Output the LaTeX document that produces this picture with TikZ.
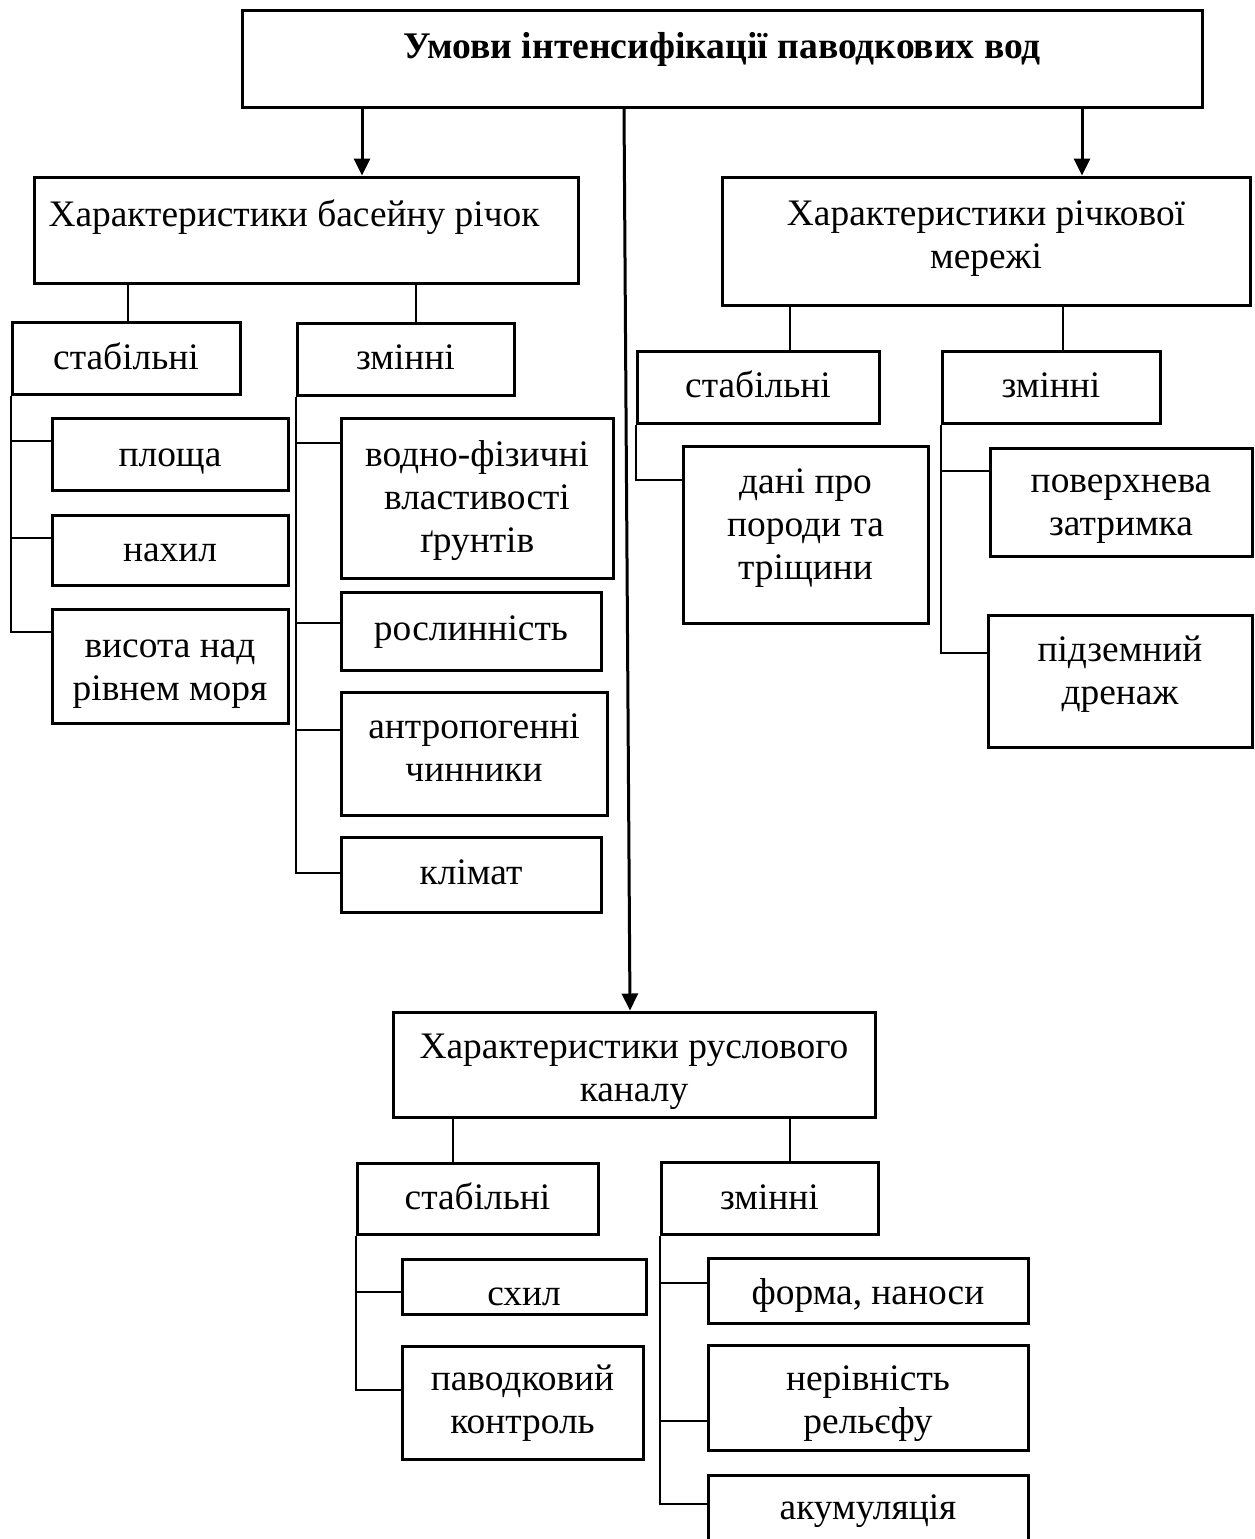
\documentclass[tikz,border=0pt]{standalone}
\usepackage{fontspec}
\setmainfont{Liberation Serif}
\usetikzlibrary{arrows.meta}
\newcommand\tx[2]{\raisebox{\dimexpr#1-1.5pt\relax}[0pt][0pt]{\begin{tabular}[t]{@{}c@{}}#2\end{tabular}}}
\begin{document}
\begin{tikzpicture}[x=1pt,y=-1pt,
  box/.style={draw, line width=3pt, inner sep=0pt,
    font=\fontsize{37.4}{43}\selectfont},
  tree/.style={line width=2pt},
  arr/.style={line width=3pt, -{Triangle[length=17pt,width=16pt]}}]
\useasboundingbox (0,0) rectangle (1254,1539);
\clip (0,0) rectangle (1254,1539);
% top
\node[box, minimum width=960pt, minimum height=97pt,
  font=\fontsize{37.6}{43}\selectfont\bfseries] (T) at (722,58.5) {\tx{1.5pt}{Умови інтенсифікації паводкових вод}};
% level 1
\node[box, minimum width=544pt, minimum height=106pt] (A) at (306,230) {\hspace*{-24pt}\tx{4.6pt}{Характеристики басейну річок}};
\node[box, minimum width=528pt, minimum height=128pt] (B) at (986,241) {\tx{17.4pt}{Характеристики річкової\\мережі}};
\node[box, minimum width=482pt, minimum height=105pt] (C) at (634,1064.5) {\tx{7.8pt}{Характеристики руслового\\каналу}};
% A
\node[box, minimum width=228pt, minimum height=72pt] (As) at (126,358) {\tx{-9.7pt}{стабільні}};
\node[box, minimum width=217pt, minimum height=72pt] (Az) at (405.5,359) {\tx{-9pt}{змінні}};
\node[box, minimum width=236pt, minimum height=72pt] (A1) at (170,454) {\tx{-10.6pt}{площа}};
\node[box, minimum width=236pt, minimum height=70pt] (A2) at (170,550) {\tx{-9.5pt}{нахил}};
\node[box, minimum width=236pt, minimum height=114pt] (A3) at (170,666) {\tx{10.4pt}{висота над\\рівнем моря}};
\node[box, minimum width=272pt, minimum height=160pt] (A4) at (477,498) {\tx{33.4pt}{водно-фізичні\\властивості\\ґрунтів}};
\node[box, minimum width=260pt, minimum height=78pt] (A5) at (471,631) {\tx{-7.6pt}{рослинність}};
\node[box, minimum width=266pt, minimum height=123pt] (A6) at (474,753.5) {\tx{16.1pt}{антропогенні\\чинники}};
\node[box, minimum width=260pt, minimum height=75pt] (A7) at (471,874.5) {\tx{-8.5pt}{клімат}};
% B
\node[box, minimum width=242pt, minimum height=72pt] (Bs) at (758,387) {\tx{-8.8pt}{стабільні}};
\node[box, minimum width=218pt, minimum height=72pt] (Bz) at (1051,387) {\tx{-8.8pt}{змінні}};
\node[box, minimum width=245pt, minimum height=177pt] (B1) at (805.5,534.5) {\tx{43pt}{дані про\\породи та\\тріщини}};
\node[box, minimum width=262pt, minimum height=108pt] (B2) at (1121,502) {\tx{11.3pt}{поверхнева\\затримка}};
\node[box, minimum width=264pt, minimum height=132pt] (B3) at (1120,681) {\tx{21.1pt}{підземний\\дренаж}};
% C
\node[box, minimum width=241pt, minimum height=71pt] (Cs) at (477.5,1198.5) {\tx{-9.8pt}{стабільні}};
\node[box, minimum width=217pt, minimum height=72pt] (Cz) at (769.5,1198.5) {\tx{-9.8pt}{змінні}};
\node[box, minimum width=244pt, minimum height=55pt] (C1) at (524,1286.5) {\tx{-17pt}{схил}};
\node[box, minimum width=241pt, minimum height=113pt] (C2) at (522.5,1402.5) {\tx{13.2pt}{паводковий\\контроль}};
\node[box, minimum width=320pt, minimum height=65pt] (C3) at (868,1290.5) {\tx{-12.8pt}{форма, наноси}};
\node[box, minimum width=320pt, minimum height=105pt] (C4) at (868,1397.5) {\tx{8.2pt}{нерівність\\рельєфу}};
\node[box, minimum width=320pt, minimum height=65pt] (C5) at (868,1507.5) {\tx{-10.5pt}{акумуляція}};
% arrows
\draw[arr] ([xshift=56pt]A.north |- T.south) -- ([xshift=56pt]A.north);
\draw[arr] ([xshift=96pt]B.north |- T.south) -- ([xshift=96pt]B.north);
\draw[arr] ([xshift=-98pt]T.south) -- ([xshift=-4pt]C.north);
% level-2 links
\draw[tree] ([xshift=2pt]As.north) -- ([xshift=2pt]As.north |- A.south);
\draw[tree] ([xshift=10.5pt]Az.north) -- ([xshift=10.5pt]Az.north |- A.south);
\draw[tree] ([xshift=32pt]Bs.north) -- ([xshift=32pt]Bs.north |- B.south);
\draw[tree] ([xshift=12pt]Bz.north) -- ([xshift=12pt]Bz.north |- B.south);
\draw[tree] ([xshift=-24.5pt]Cs.north) -- ([xshift=-24.5pt]Cs.north |- C.south);
\draw[tree] ([xshift=20.5pt]Cz.north) -- ([xshift=20.5pt]Cz.north |- C.south);
% tree branches
\draw[tree] (As.south west) |- ([yshift=13pt]A1.west);
\draw[tree] (As.south west) |- ([yshift=12pt]A2.west);
\draw[tree] (As.south west) |- ([yshift=34pt]A3.west);
\draw[tree] (Az.south west) |- ([yshift=55pt]A4.west);
\draw[tree] (Az.south west) |- ([yshift=8pt]A5.west);
\draw[tree] (Az.south west) |- ([yshift=23.5pt]A6.west);
\draw[tree] (Az.south west) |- ([yshift=1.5pt]A7.west);
\draw[tree] (Bs.south west) |- ([yshift=54.5pt]B1.west);
\draw[tree] (Bz.south west) |- ([yshift=31pt]B2.west);
\draw[tree] (Bz.south west) |- ([yshift=28pt]B3.west);
\draw[tree] (Cs.south west) |- ([yshift=-5.5pt]C1.west);
\draw[tree] (Cs.south west) |- ([yshift=12.5pt]C2.west);
\draw[tree] (Cz.south west) |- ([yshift=7.5pt]C3.west);
\draw[tree] (Cz.south west) |- ([yshift=-23.5pt]C4.west);
\draw[tree] (Cz.south west) |- ([yshift=3.5pt]C5.west);
\end{tikzpicture}
\end{document}
